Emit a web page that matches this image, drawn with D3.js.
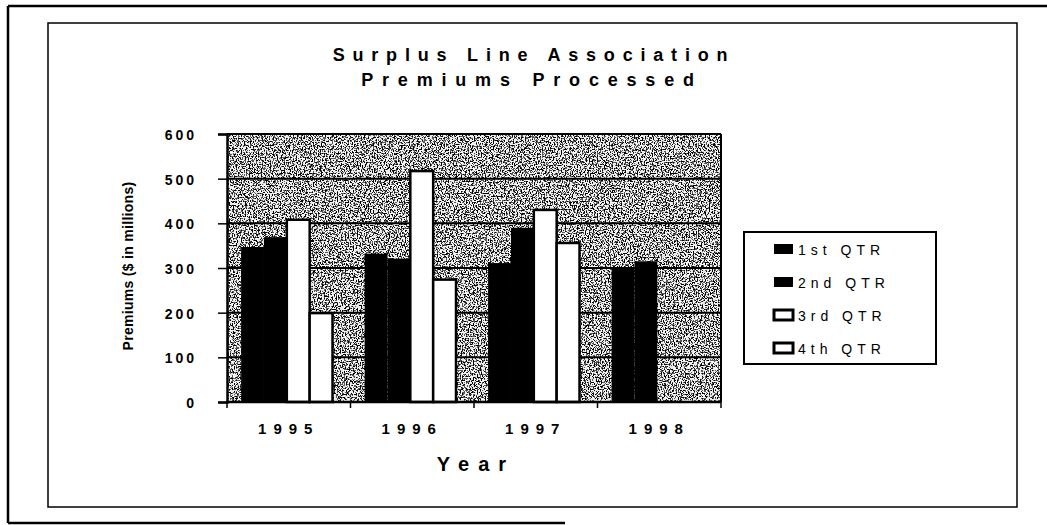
<!DOCTYPE html>
<html>
<head>
<meta charset="utf-8">
<script src="https://cdn.jsdelivr.net/npm/d3@7"></script>
<style>
  body { margin: 0; background: #fff; }
  text { font-family: "Liberation Sans", Arial, sans-serif; fill: #000; }
</style>
</head>
<body>
<svg id="chart" width="1047" height="525"></svg>
<script>
// data
var years = ["1995", "1996", "1997", "1998"];
var quarters = ["1st QTR", "2nd QTR", "3rd QTR", "4th QTR"];
var q1 = [347, 332, 311, 302];
var q2 = [369, 321, 390, 315];
var q3 = [408, 517, 430, null];
var q4 = [199, 274, 356, null];
var yTicks = [0, 100, 200, 300, 400, 500, 600];

var series = [q1, q2, q3, q4];
var fills = ["#000", "#000", "#fff", "#fff"];

var svg = d3.select("#chart");
var plot = { left: 227, right: 721, top: 134, bottom: 402 };

// ---------------------------------------------------------------------------
// frames
svg.append("path")
    .attr("d", "M8,6 L1047,6 M8,6 L8,523 M8,523 L565,523")
    .attr("fill", "none").attr("stroke", "#000").attr("stroke-width", 2.5);
svg.append("rect")
    .attr("x", 48).attr("y", 23).attr("width", 969).attr("height", 484)
    .attr("fill", "none").attr("stroke", "#000").attr("stroke-width", 1.5);

// speckled gray plot background
var defs = svg.append("defs");
var f = defs.append("filter").attr("id", "speckle")
    .attr("x", 0).attr("y", 0).attr("width", 1).attr("height", 1);
f.append("feTurbulence").attr("type", "fractalNoise")
    .attr("baseFrequency", 0.75).attr("numOctaves", 2).attr("seed", 3);
f.append("feColorMatrix").attr("type", "matrix")
    .attr("values", "1 0 0 0 0  1 0 0 0 0  1 0 0 0 0  0 0 0 0 1");
var ct = f.append("feComponentTransfer");
["feFuncR", "feFuncG", "feFuncB"].forEach(function (fn) {
    ct.append(fn).attr("type", "discrete")
        .attr("tableValues", "0 0 0 0 0.1 0.8 1 1 1 1");
});

var y = d3.scaleLinear().domain([0, 600]).range([plot.bottom, plot.top]);
var xCat = d3.scaleBand().domain(years).range([plot.left, plot.right]);
var x0 = d3.scaleBand().domain(years).range([plot.left, plot.right])
    .paddingInner(0.26).paddingOuter(0.13).align(0.44);
var x1 = d3.scaleBand().domain(d3.range(4)).range([0, x0.bandwidth()]);

svg.append("rect")
    .attr("x", plot.left).attr("y", plot.top)
    .attr("width", plot.right - plot.left).attr("height", plot.bottom - plot.top)
    .attr("fill", "#999").attr("filter", "url(#speckle)");

// gridlines
svg.append("g").selectAll("line").data(yTicks.slice(1)).join("line")
    .attr("x1", plot.left).attr("x2", plot.right)
    .attr("y1", function (d) { return y(d); }).attr("y2", function (d) { return y(d); })
    .attr("stroke", "#000").attr("stroke-width", 2);
svg.append("line")
    .attr("x1", plot.right).attr("x2", plot.right)
    .attr("y1", plot.top).attr("y2", plot.bottom)
    .attr("stroke", "#000").attr("stroke-width", 2);

// bars
var rows = [];
years.forEach(function (yr, i) {
    series.forEach(function (s, j) {
        if (s[i] != null) rows.push({ year: yr, q: j, v: s[i] });
    });
});
svg.append("g").selectAll("rect").data(rows).join("rect")
    .attr("x", function (d) { return x0(d.year) + x1(d.q); })
    .attr("y", function (d) { return y(d.v); })
    .attr("width", x1.bandwidth())
    .attr("height", function (d) { return y(0) - y(d.v); })
    .attr("fill", function (d) { return fills[d.q]; })
    .attr("stroke", "#000").attr("stroke-width", function (d) { return d.q > 1 ? 2.5 : 0; });

// y axis
var yAxis = svg.append("g").attr("transform", "translate(" + plot.left + ",0)")
    .call(d3.axisLeft(y).tickValues(yTicks).tickSize(9).tickPadding(21)
        .tickFormat(function (d) { return String(d); }));
yAxis.select(".domain").attr("stroke-width", 2.5);
yAxis.selectAll(".tick line").attr("stroke-width", 1.5);
yAxis.selectAll("text")
    .style("font-family", "'Liberation Sans', Arial, sans-serif")
    .attr("font-size", 14).attr("font-weight", "bold")
    .attr("letter-spacing", 3).attr("dy", "0.4em");

// x axis
svg.append("line")
    .attr("x1", plot.left).attr("x2", plot.right)
    .attr("y1", plot.bottom).attr("y2", plot.bottom)
    .attr("stroke", "#000").attr("stroke-width", 2.5);
var bounds = years.map(function (d) { return xCat(d); }).concat([plot.right]);
svg.append("g").selectAll("line").data(bounds).join("line")
    .attr("x1", function (d) { return d; }).attr("x2", function (d) { return d; })
    .attr("y1", plot.bottom).attr("y2", plot.bottom + 6)
    .attr("stroke", "#000").attr("stroke-width", 1.5);
svg.append("g").selectAll("text").data(years).join("text")
    .attr("x", function (d) { return xCat(d) + xCat.bandwidth() / 2; })
    .attr("y", 434)
    .attr("text-anchor", "middle")
    .attr("font-size", 15).attr("font-weight", "bold").attr("letter-spacing", 7)
    .text(function (d) { return d; });

// axis titles
svg.append("text")
    .attr("x", 476).attr("y", 471).attr("text-anchor", "middle")
    .attr("font-size", 20).attr("font-weight", "bold").attr("letter-spacing", 9)
    .text("Year");
svg.append("text")
    .attr("transform", "translate(133,266) rotate(-90)")
    .attr("text-anchor", "middle")
    .attr("font-size", 14).attr("font-weight", "bold").attr("letter-spacing", 0.3)
    .text("Premiums ($ in millions)");

// title
svg.append("text")
    .attr("x", 534).attr("y", 61).attr("text-anchor", "middle")
    .attr("font-size", 18).attr("font-weight", "bold").attr("letter-spacing", 7.8)
    .text("Surplus Line Association");
svg.append("text")
    .attr("x", 532).attr("y", 86).attr("text-anchor", "middle")
    .attr("font-size", 18).attr("font-weight", "bold").attr("letter-spacing", 8.8)
    .text("Premiums Processed");

// legend
var lg = svg.append("g");
lg.append("rect")
    .attr("x", 744).attr("y", 232).attr("width", 192).attr("height", 132)
    .attr("fill", "#fff").attr("stroke", "#000").attr("stroke-width", 2);
var ly = d3.scalePoint().domain(quarters).range([249, 348]);
var items = lg.selectAll("g.item").data(quarters).join("g").attr("class", "item")
    .attr("transform", function (d) { return "translate(0," + ly(d) + ")"; });
items.append("rect")
    .attr("x", 774).attr("y", -5).attr("width", 19).attr("height", 10)
    .attr("fill", function (d, i) { return fills[i]; })
    .attr("stroke", "#000").attr("stroke-width", function (d, i) { return i > 1 ? 3 : 0; });
items.append("text")
    .attr("x", 798).attr("y", 5.5)
    .attr("font-size", 14).attr("letter-spacing", 5)
    .text(function (d) { return d; });
</script>
</body>
</html>
